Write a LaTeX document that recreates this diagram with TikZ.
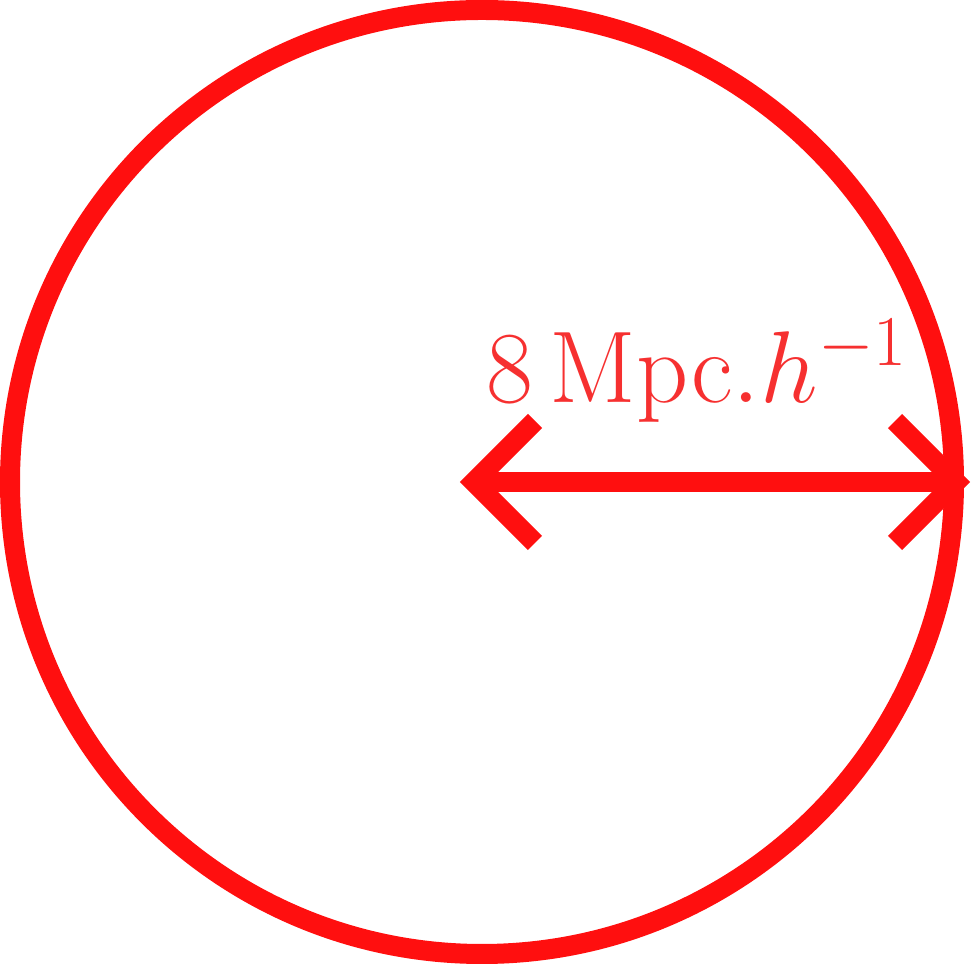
\RequirePackage{fix-cm}
\documentclass[tikz,border=0pt]{standalone}
\usepackage{xcolor}
\usetikzlibrary{calc}
\definecolor{circred}{RGB}{255,15,15}
\definecolor{txtred}{RGB}{246,48,48}
\begin{document}
\begin{tikzpicture}[x=1pt,y=1pt,
  ring/.style={draw=circred, line width=20pt, circle, minimum size=944pt, inner sep=0pt},
  shaft/.style={draw=circred, line width=20pt},
  barb/.style={draw=circred, line width=20pt, line join=miter},
  lbl/.style={text=txtred, inner sep=0pt, anchor=base west, font=\fontsize{102}{120}\selectfont}]
\useasboundingbox (0,0) rectangle (971,965);
\node[ring] (circ) at (482,483) {};
\coordinate (L) at (474,483);
\coordinate (R) at (956,483);
\draw[shaft] (L) -- (R);
\draw[barb] ($(L)+(61,61)$) -- (L) -- ($(L)+(61,-61)$);
\draw[barb] ($(R)+(-61,61)$) -- (R) -- ($(R)+(-61,-61)$);
\node[lbl] (lab) at (486,562) {$8\,\mathrm{Mpc}.h^{-1}$};
\end{tikzpicture}
\end{document}
